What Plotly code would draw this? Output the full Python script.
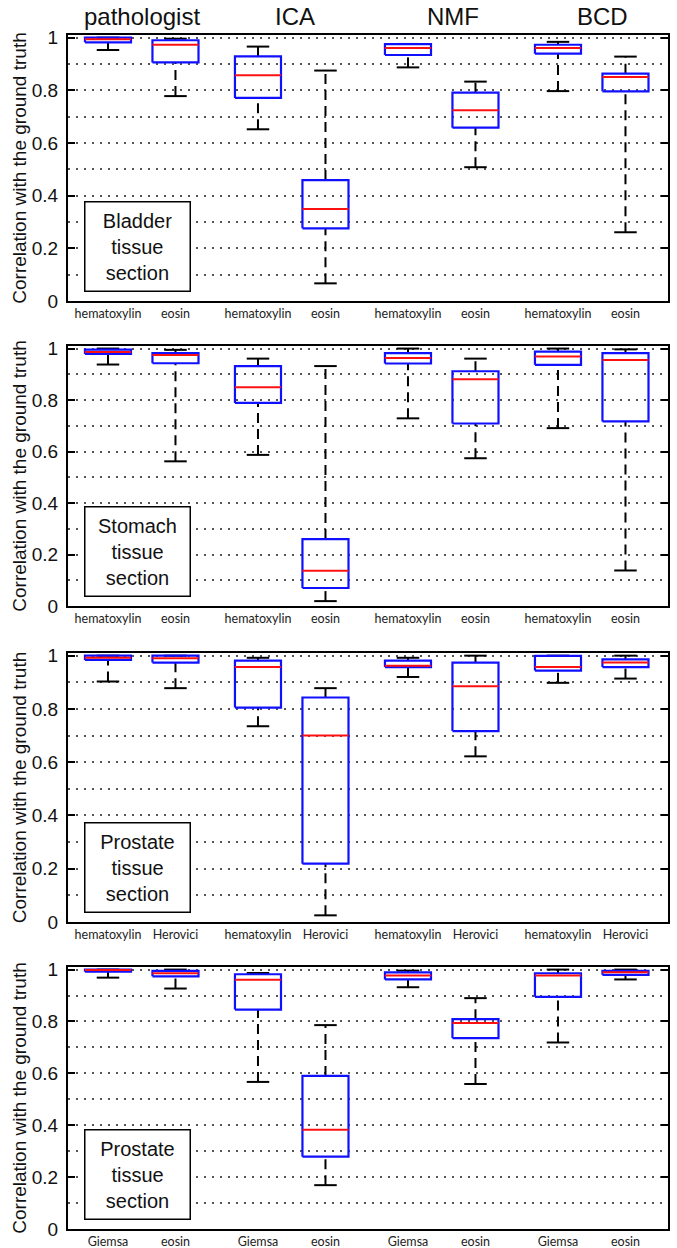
import plotly.graph_objects as go

# ---------------- data ----------------
methods = ["pathologist", "ICA", "NMF", "BCD"]
method_offsets = [0.0, 0.05, 0.15, 0.15]
positions = [1, 1.9, 3, 3.9, 5, 5.9, 7, 7.9]
tissue_labels = ["Bladder<br>tissue<br>section", "Stomach<br>tissue<br>section",
                 "Prostate<br>tissue<br>section", "Prostate<br>tissue<br>section"]

labels_bladder = ["hematoxylin", "eosin"] * 4
labels_stomach = ["hematoxylin", "eosin"] * 4
labels_prostate_h = ["hematoxylin", "Herovici"] * 4
labels_prostate_g = ["Giemsa", "eosin"] * 4

bladder_lower = [0.953, 0.778, 0.652, 0.067, 0.887, 0.508, 0.797, 0.261]
bladder_q1 = [0.982, 0.906, 0.771, 0.276, 0.934, 0.658, 0.939, 0.796]
bladder_median = [0.994, 0.973, 0.857, 0.349, 0.961, 0.724, 0.961, 0.851]
bladder_q3 = [1.0, 0.990, 0.929, 0.459, 0.975, 0.791, 0.973, 0.863]
bladder_upper = [1.0, 0.996, 0.966, 0.875, 0.976, 0.833, 0.984, 0.928]

stomach_lower = [0.938, 0.562, 0.587, 0.019, 0.729, 0.574, 0.691, 0.138]
stomach_q1 = [0.979, 0.943, 0.789, 0.070, 0.942, 0.709, 0.937, 0.717]
stomach_median = [0.987, 0.975, 0.850, 0.137, 0.963, 0.881, 0.969, 0.956]
stomach_q3 = [0.996, 0.982, 0.932, 0.260, 0.982, 0.912, 0.988, 0.982]
stomach_upper = [1.0, 0.995, 0.961, 0.932, 1.0, 0.961, 1.0, 0.997]

prostH_lower = [0.903, 0.878, 0.735, 0.025, 0.920, 0.622, 0.898, 0.914]
prostH_q1 = [0.984, 0.974, 0.805, 0.219, 0.957, 0.717, 0.944, 0.957]
prostH_median = [0.992, 0.990, 0.957, 0.700, 0.962, 0.885, 0.957, 0.974]
prostH_q3 = [1.0, 1.0, 0.981, 0.843, 0.981, 0.974, 0.999, 0.986]
prostH_upper = [1.0, 1.0, 0.992, 0.878, 0.992, 1.0, 1.0, 1.0]

prostG_lower = [0.969, 0.927, 0.567, 0.169, 0.932, 0.559, 0.719, 0.962]
prostG_q1 = [0.992, 0.974, 0.846, 0.279, 0.962, 0.736, 0.895, 0.980]
prostG_median = [0.998, 0.986, 0.961, 0.383, 0.977, 0.794, 0.977, 0.990]
prostG_q3 = [1.0, 0.995, 0.982, 0.590, 0.989, 0.809, 0.986, 0.995]
prostG_upper = [1.0, 1.0, 0.987, 0.786, 0.996, 0.890, 1.0, 1.0]

panels = [
    (labels_bladder, bladder_lower, bladder_q1, bladder_median, bladder_q3, bladder_upper),
    (labels_stomach, stomach_lower, stomach_q1, stomach_median, stomach_q3, stomach_upper),
    (labels_prostate_h, prostH_lower, prostH_q1, prostH_median, prostH_q3, prostH_upper),
    (labels_prostate_g, prostG_lower, prostG_q1, prostG_median, prostG_q3, prostG_upper),
]

# ---------------- layout geometry (pixels) ----------------
W, H = 677, 1248
plot_left, plot_right = 68, 668
panel_px = [(35, 301), (346, 606), (653, 922), (967, 1229)]
BOX_HW = 0.307
CAP_HW = 0.15

BLUE = "#1010ff"
RED = "#ff1010"
BLACK = "#000000"

fig = go.Figure()

for k, (labels, lo, q1, med, q3, hi) in enumerate(panels):
    xa = "x" if k == 0 else f"x{k+1}"
    ya = "y" if k == 0 else f"y{k+1}"
    bx, by, mx, my, wx, wy, cx, cy = [], [], [], [], [], [], [], []
    for i, p in enumerate(positions):
        bx += [p - BOX_HW, p + BOX_HW, p + BOX_HW, p - BOX_HW, p - BOX_HW, None]
        by += [q1[i], q1[i], q3[i], q3[i], q1[i], None]
        mx += [p - BOX_HW, p + BOX_HW, None]
        my += [med[i], med[i], None]
        wx += [p, p, None, p, p, None]
        wy += [q3[i], hi[i], None, lo[i], q1[i], None]
        cx += [p - CAP_HW, p + CAP_HW, None, p - CAP_HW, p + CAP_HW, None]
        cy += [hi[i], hi[i], None, lo[i], lo[i], None]
    fig.add_trace(go.Scatter(x=wx, y=wy, mode="lines", xaxis=xa, yaxis=ya,
                             line=dict(color=BLACK, width=2, dash="10px,6px"),
                             hoverinfo="skip", showlegend=False))
    fig.add_trace(go.Scatter(x=cx, y=cy, mode="lines", xaxis=xa, yaxis=ya,
                             line=dict(color=BLACK, width=2),
                             hoverinfo="skip", showlegend=False))
    fig.add_trace(go.Scatter(x=bx, y=by, mode="lines", xaxis=xa, yaxis=ya,
                             line=dict(color=BLUE, width=2.2),
                             hoverinfo="skip", showlegend=False))
    fig.add_trace(go.Scatter(x=mx, y=my, mode="lines", xaxis=xa, yaxis=ya,
                             line=dict(color=RED, width=2),
                             hoverinfo="skip", showlegend=False))

    top, bottom = panel_px[k]
    dom_y = [(H - bottom) / H, (H - top) / H]
    dom_x = [plot_left / W, plot_right / W]
    xkey = "xaxis" if k == 0 else f"xaxis{k+1}"
    ykey = "yaxis" if k == 0 else f"yaxis{k+1}"
    fig.update_layout(**{
        xkey: dict(domain=dom_x, anchor=ya, range=[0.467, 8.467],
                   tickmode="array", tickvals=positions, ticktext=labels,
                   ticks="", showgrid=False, zeroline=False,
                   showline=True, mirror=True, linecolor=BLACK, linewidth=2,
                   tickfont=dict(family="Lato", size=12.5, color="#222"),
                   ticklabelstandoff=0,
                   automargin=False, fixedrange=True),
        ykey: dict(domain=dom_y, anchor=xa, range=[0, 1.01],
                   tickmode="array", tickvals=[0, 0.2, 0.4, 0.6, 0.8, 1],
                   ticktext=["0", "0.2", "0.4", "0.6", "0.8", "1"],
                   ticks="inside", ticklen=7, tickwidth=2, tickcolor=BLACK,
                   showgrid=True, gridcolor="#555", gridwidth=1.5,
                   griddash="1.5px,6.5px",
                   minor=dict(tickvals=[0.1, 0.3, 0.5, 0.7, 0.9], showgrid=True,
                              gridcolor="#555", gridwidth=1.5,
                              griddash="1.5px,6.5px", ticks=""),
                   zeroline=False, showline=True, mirror="ticks",
                   linecolor=BLACK, linewidth=2,
                   tickfont=dict(family="Liberation Sans, Arial", size=19, color="#111"),
                   ticklabelstandoff=4,
                   title=dict(text="Correlation with the ground truth",
                              font=dict(family="Liberation Sans, Arial", size=19, color="#111"),
                              standoff=0),
                   automargin=False, fixedrange=True),
    })
    # tissue inset label
    fig.add_annotation(xref=f"{xa} domain", yref=f"{ya} domain",
                       x=16 / 600, y=9 / (bottom - top),
                       xanchor="left", yanchor="bottom",
                       text=tissue_labels[k], showarrow=False, align="center",
                       font=dict(family="Liberation Sans, Arial", size=20, color="#111"),
                       bordercolor=BLACK, borderwidth=1.5, borderpad=5,
                       bgcolor="white", width=94, height=78)

# method titles above the first panel
for j, m in enumerate(methods):
    cxm = (positions[2 * j] + positions[2 * j + 1]) / 2 + method_offsets[j]
    fig.add_annotation(xref="x", yref="paper", x=cxm, y=(H - 17) / H,
                       text=m, showarrow=False, yanchor="middle",
                       font=dict(family="Liberation Sans, Arial", size=24, color="#111"))

fig.update_layout(width=W, height=H, margin=dict(l=0, r=0, t=0, b=0),
                  paper_bgcolor="white", plot_bgcolor="white", showlegend=False)

fig.write_html("out.html")
